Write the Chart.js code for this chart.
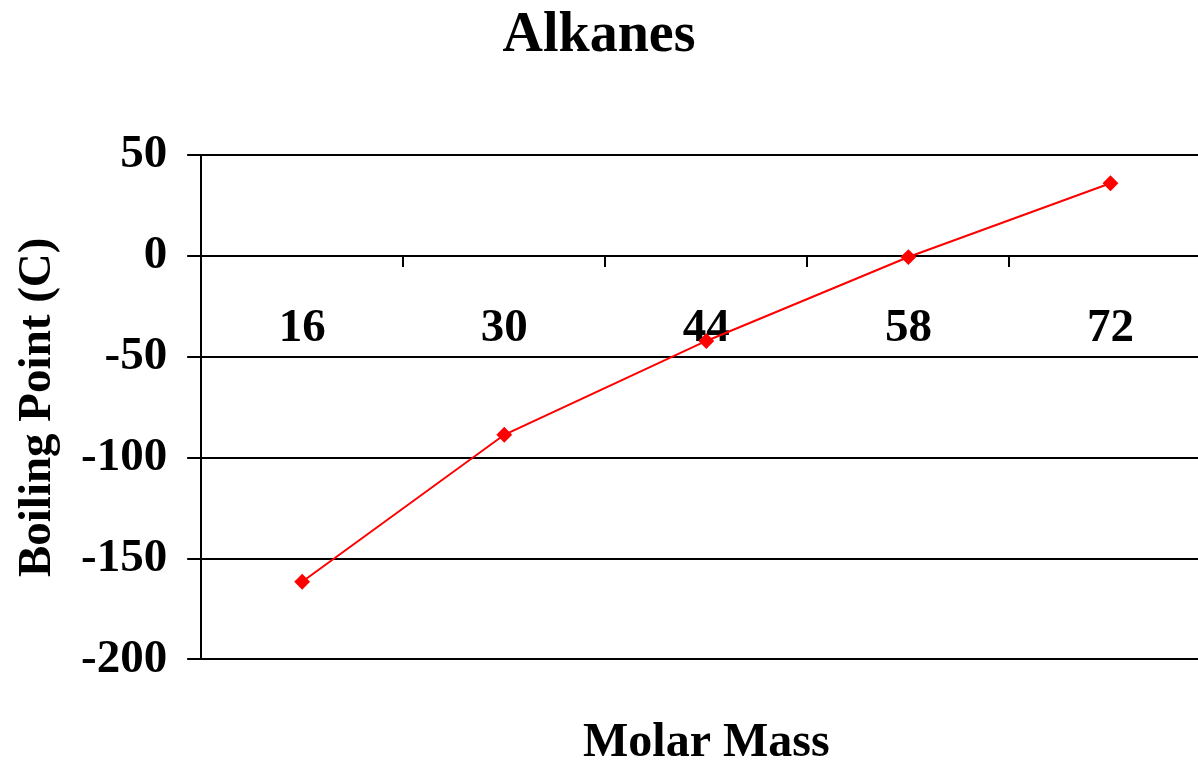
<!DOCTYPE html>
<html>
<head>
<meta charset="utf-8">
<script src="https://cdn.jsdelivr.net/npm/chart.js@4"></script>
<style>
  html, body { margin: 0; padding: 0; background: #fff; overflow: hidden; }
  #wrap { width: 1220px; height: 761px; position: relative; }
</style>
</head>
<body>
<div id="wrap"><canvas id="c"></canvas></div>
<script>
const chartTitle = 'Alkanes';
const xAxisTitle = 'Molar Mass';
const yAxisTitle = 'Boiling Point (C)';
const categories = ['16', '30', '44', '58', '72'];
const boilingPoints = [-161.5, -88.6, -42.1, -0.5, 36.1];
const yMin = -200;
const yMax = 50;
const yStep = 50;

const FONT = "'Liberation Serif', 'Times New Roman', serif";
const VIEW_W = 1198;

const shiftTitle = {
  id: 'shiftTitle',
  afterLayout(chart) {
    const t = chart.titleBlock;
    if (t) {
      const d = (VIEW_W - chart.width) / 2;
      t.left += d; t.right += d;
    }
  }
};

new Chart(document.getElementById('c'), {
  type: 'line',
  data: {
    labels: categories,
    datasets: [{
      label: 'Boiling Point',
      data: boilingPoints,
      borderColor: '#ff0000',
      backgroundColor: '#ff0000',
      borderWidth: 2,
      pointStyle: 'rectRot',
      pointRadius: 6.5,
      pointHoverRadius: 6.5,
      tension: 0,
      fill: false
    }]
  },
  options: {
    responsive: true,
    maintainAspectRatio: false,
    devicePixelRatio: 1,
    animation: false,
    layout: { padding: { left: 0, right: 0, top: 0, bottom: 0 } },
    plugins: {
      legend: { display: false },
      tooltip: { enabled: false },
      title: {
        display: true,
        text: chartTitle,
        color: '#000',
        font: { family: FONT, size: 56, weight: 'bold', lineHeight: 1.2 },
        padding: { top: 3, bottom: 85 }
      }
    },
    scales: {
      x: {
        type: 'category',
        position: { y: 0 },
        offset: true,
        grid: {
          offset: true,
          drawOnChartArea: false,
          drawTicks: true,
          tickLength: 11,
          color: '#000',
          lineWidth: 2
        },
        border: { display: false },
        ticks: {
          color: '#000',
          padding: 34,
          maxRotation: 0,
          font: { family: FONT, size: 47, weight: 'bold' }
        }
      },
      x2: {
        type: 'category',
        position: 'bottom',
        offset: true,
        grid: { display: false },
        border: { display: false },
        ticks: { display: false },
        title: {
          display: true,
          text: xAxisTitle,
          color: '#000',
          font: { family: FONT, size: 48, weight: 'bold', lineHeight: 0.72 },
          padding: { top: 59, bottom: 0 }
        }
      },
      y: {
        type: 'linear',
        min: yMin,
        max: yMax,
        ticks: {
          stepSize: yStep,
          color: '#000',
          padding: 20,
          font: { family: FONT, size: 47, weight: 'bold' }
        },
        grid: {
          color: '#000',
          lineWidth: 2,
          tickLength: 14,
          drawTicks: true
        },
        border: { display: true, color: '#000', width: 2 },
        title: {
          display: true,
          text: yAxisTitle,
          color: '#000',
          font: { family: FONT, size: 47, weight: 'bold', lineHeight: 1.0 },
          padding: { top: 14, bottom: 0 }
        }
      }
    }
  },
  plugins: [shiftTitle]
});
</script>
</body>
</html>
